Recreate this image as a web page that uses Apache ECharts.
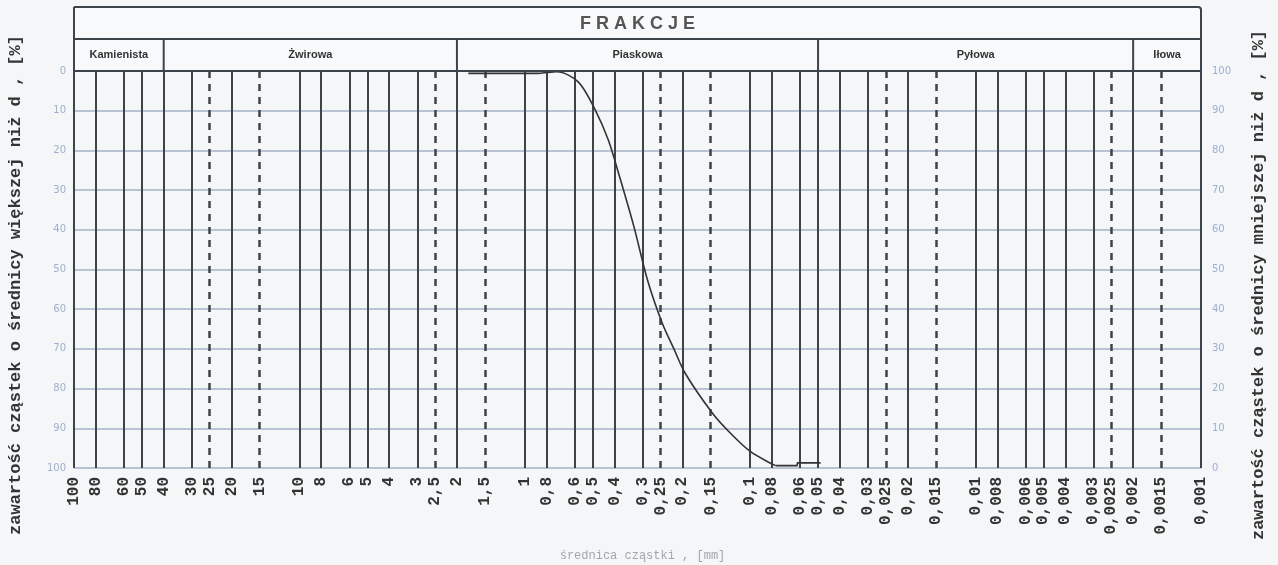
<!DOCTYPE html>
<html><head><meta charset="utf-8">
<script src="https://cdn.jsdelivr.net/npm/echarts@6/dist/echarts.min.js"></script>
<style>html,body{margin:0;padding:0;background:#f4f6f7}#c{width:1278px;height:565px}</style>
</head><body><div id="c"></div>
<script>
// ---- data ----
const solidTicks = [100,80,60,50,40,30,20,10,8,6,5,4,3,2,1,0.8,0.6,0.5,0.4,0.3,0.2,0.1,0.08,0.06,0.05,0.04,0.03,0.02,0.01,0.008,0.006,0.005,0.004,0.003,0.002,0.001];
const dashedTicks = [25,15,2.5,1.5,0.25,0.15,0.025,0.015,0.0025,0.0015];
const fractionNames = ['Kamienista','Żwirowa','Piaskowa','Pyłowa','Iłowa'];
const fractionBounds = [100,40,2,0.05,0.002,0.001];
const diameters = [1.78,0.87,0.72,0.578,0.486,0.426,0.384,0.328,0.286,0.246,0.218,0.194,0.147,0.122,0.0996,0.0812,0.0771];
const coarserPct = [0.6,0.6,0.2,2.8,9.9,17.4,25.7,39.2,52.5,63.4,70.0,76.2,86.2,91.3,95.9,98.8,99.4];
const tailDiameters = [0.0771,0.0618,0.0618,0.0487];
const tailPct = [99.4,99.4,98.7,98.7];
const headerTitle = 'F R A K C J E';
const leftName = 'zawartość cząstek o średnicy większej niż d , [%]';
const rightName = 'zawartość cząstek o średnicy mniejszej niż d , [%]';
const bottomName = 'średnica cząstki , [mm]';

const LINE = '#3c434b';
const fmt = v => String(Number(Number(v).toPrecision(6))).replace('.', ',');
const chart = echarts.init(document.getElementById('c'));
function xAxisDef(values, dashed) {
  return {
    type: 'log', logBase: 10, min: 0.001, max: 100, inverse: true, position: 'bottom',
    gridIndex: 0,
    axisLine: {show: !dashed, lineStyle: {color: LINE, width: 2}},
    axisTick: {show: false, customValues: values},
    axisLabel: {customValues: values, rotate: 90, margin: 9, formatter: fmt,
      fontFamily: 'Liberation Mono', fontWeight: 'bold', fontSize: 16, color: '#333'},
    splitLine: {show: true, lineStyle: {color: LINE, width: dashed ? 2.5 : 2, type: dashed ? [7, 6] : 'solid'}},
    minorSplitLine: {show: false}
  };
}
chart.setOption({
  backgroundColor: '#f4f6f7',
  animation: false,
  grid: {left: 74, right: 77, top: 71, bottom: 97, containLabel: false, outerBoundsMode: 'none'},
  xAxis: [xAxisDef(solidTicks, false), xAxisDef(dashedTicks, true)],
  yAxis: [
    {type: 'value', min: 0, max: 100, interval: 10, inverse: true, position: 'left',
      axisLine: {show: false}, axisTick: {show: false},
      axisLabel: {margin: 8, fontSize: 10, color: '#9fb0cf', fontFamily: 'DejaVu Sans'},
      splitLine: {show: true, lineStyle: {color: '#a7b2c8', width: 1.5}}},
    {type: 'value', min: 0, max: 100, interval: 10, position: 'right',
      axisLine: {show: false}, axisTick: {show: false},
      axisLabel: {margin: 11, fontSize: 10, color: '#9fb0cf', fontFamily: 'DejaVu Sans'},
      splitLine: {show: false}}
  ],
  series: [{
    type: 'line', xAxisIndex: 0, yAxisIndex: 0, symbol: 'none', smooth: 0.3,
    lineStyle: {color: '#333', width: 1.6}, z: 5,
    data: diameters.map((d, i) => [d, coarserPct[i]])
  }, {
    type: 'line', xAxisIndex: 0, yAxisIndex: 0, symbol: 'none', smooth: false,
    lineStyle: {color: '#333', width: 1.6}, z: 5,
    data: tailDiameters.map((d, i) => [d, tailPct[i]])
  }]
});

// header built from axis scale
const px = v => chart.convertToPixel({xAxisIndex: 0}, v);
const yTop = chart.convertToPixel({yAxisIndex: 0}, 0);
const xL = px(fractionBounds[0]), xR = px(fractionBounds[fractionBounds.length - 1]);
const hTop = 7, hMid = 39;
const els = [];
els.push({type: 'rect', shape: {x: xL, y: hTop, width: xR - xL, height: yTop - hTop, r: [0, 3, 0, 0]},
  style: {fill: '#f7f9fa', stroke: LINE, lineWidth: 2}, z: 10});
els.push({type: 'line', shape: {x1: xL, y1: hMid, x2: xR, y2: hMid}, style: {stroke: LINE, lineWidth: 2}, z: 11});
els.push({type: 'text', x: (xL + xR) / 2, y: (hTop + hMid) / 2 + 1, z: 12,
  style: {text: headerTitle, fill: '#555', font: 'bold 18px "Liberation Sans"', textAlign: 'center', textVerticalAlign: 'middle'}});
for (let i = 0; i < fractionNames.length; i++) {
  const a = px(fractionBounds[i]), b = px(fractionBounds[i + 1]);
  if (i > 0) els.push({type: 'line', shape: {x1: a, y1: hMid, x2: a, y2: yTop}, style: {stroke: LINE, lineWidth: 2}, z: 11});
  els.push({type: 'text', x: (a + b) / 2, y: (hMid + yTop) / 2, z: 12,
    style: {text: fractionNames[i], fill: '#333', font: 'bold 11px "Liberation Sans"', textAlign: 'center', textVerticalAlign: 'middle'}});
}
els.push({type: 'text', x: 16, y: 285, rotation: Math.PI / 2, z: 12,
  style: {text: leftName, fill: '#333', font: 'bold 17px "Liberation Mono"', textAlign: 'center', textVerticalAlign: 'middle'}});
els.push({type: 'text', x: 1259, y: 285, rotation: Math.PI / 2, z: 12,
  style: {text: rightName, fill: '#333', font: 'bold 17px "Liberation Mono"', textAlign: 'center', textVerticalAlign: 'middle'}});
els.push({type: 'text', x: (xL + xR) / 2 + 5, y: 556, z: 12,
  style: {text: bottomName, fill: '#a2a4b0', font: '12px "Liberation Mono"', textAlign: 'center', textVerticalAlign: 'middle'}});
chart.setOption({graphic: els});
</script></body></html>
